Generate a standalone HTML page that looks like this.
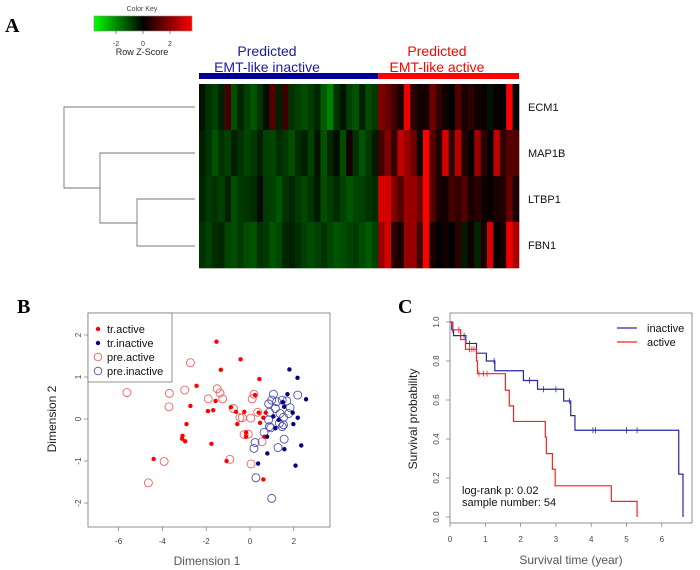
<!DOCTYPE html>
<html><head><meta charset="utf-8"><style>
html,body{margin:0;padding:0;background:#fff;}
svg{display:block;font-family:"Liberation Sans",sans-serif;}
</style></head><body>
<svg id="fig" width="700" height="570" viewBox="0 0 700 570"></svg>
<script>
// ---------- Panel A data ----------
const genes = ["ECM1","MAP1B","LTBP1","FBN1"];
const ecm1 = [-0.3,-0.8,-1,-0.5,0.8,-1.2,-0.6,-1,-1.3,-0.8,-0.2,1,-0.5,0.7,-0.8,-1,-1.2,-0.9,-0.6,-1.4,-2,-0.8,-0.3,-1,-1.3,-0.5,-1.2,-0.9, 1.5,1.2,0.8,0.3,2.8,0.5,0.2,0.3,1.3,0.6,0.2,0,1,0.3,0.5,0.2,0.1,-0.3,0.1,0,3,0];
const map1b = [-0.5,-0.8,-1.3,-0.8,-1,-0.5,-0.8,-1.1,-0.9,-0.5,-1,-1.1,-0.7,-0.9,-1.2,-0.7,-0.5,-1,-0.3,-1.3,-0.6,-0.2,-1.2,0.2,-0.8,-1.3,-0.9,-0.4, 0.8,1.5,0.6,2.3,1.8,1.3,0.2,3,1,0.4,2.5,0.6,2.2,0.4,0,1.8,0.5,0,2.3,0.6,1,1];
const ltbp1 = [-0.6,-0.9,-0.8,-1,-0.5,-1.2,-0.9,-0.8,-0.7,-0.2,-0.9,-1,-1.3,-0.8,-0.6,-0.9,-1.1,-0.8,-0.4,-1.2,-0.9,-0.7,-1,-1.3,-1.1,-1,-0.8,-0.7, 2.5,2.5,1.5,1,1.8,1.8,1.3,3,1,0.3,0.2,0.8,0.6,1,0.3,0.5,0.2,0.1,0.3,0.4,1.2,0.3];
const fbn1 = [-0.8,-1,-0.7,-0.6,-1.1,-1.2,-0.9,-1.2,-1.3,-0.8,-0.9,-1.3,-1.1,-0.6,-0.5,-0.7,-1,-1.2,-1,-0.8,-1.1,-1.3,-1.2,-1,-0.9,-1.2,-1.4,-1, 1.8,2.5,0.5,0.3,1.8,1.8,0.8,3,0.3,0,0.2,0,0.5,-0.4,0.2,-0.6,0.3,2.5,0,0.3,2.8,2];
const nInactive = 28;

// ---------- Panel B data ----------
const trActiveX = [-1.53,-0.43,-1.33,0.43,-2.44,0.23,-2.72,-1.57,-1.92,-1.68,-0.87,-0.64,-0.26,-0.58,-2.9,-3.08,-3.1,-2.96,-1.76,-0.18,-0.18,-1.07,-4.4,0.4,0.46,0.61,0.72,0.66,0.61];
const trActiveY = [1.84,1.42,1.17,0.95,0.79,0.57,0.31,0.43,0.19,0.21,0.28,0.17,0.17,-0.12,-0.12,-0.4,-0.47,-0.53,-0.59,-0.32,-0.42,-1.0,-0.95,0.15,-0.09,0.03,0.15,-0.42,-1.44];
const preActiveX = [-2.72,-5.62,-3.68,-2.98,-3.7,-3.92,-4.64,-1.5,-1.37,-1.25,-1.91,-0.76,-0.46,-0.35,0.03,0.35,0.18,0.1,-0.27,-0.08,0.55,-0.92,0.05];
const preActiveY = [1.34,0.63,0.61,0.69,0.29,-1.01,-1.52,0.72,0.62,0.48,0.48,0.25,0.03,0.03,0.02,0.16,0.59,0.48,-0.37,-0.36,-0.54,-0.96,-1.07];
const trInactiveX = [1.8,2.17,2.56,1.71,1.5,1.56,1.95,2.18,1.98,1.07,1.31,1.16,0.78,1.57,0.79,2.34,0.37,2.08];
const trInactiveY = [1.18,0.98,0.47,0.59,0.4,0.29,0.15,0.03,-0.12,0.06,-0.02,-0.22,-0.42,-0.72,-0.82,-0.63,-1.06,-1.11];
const preInactiveX = [1.07,0.99,0.85,1.22,1.47,1.68,2.18,1.83,1.77,0.89,1.16,1.37,1.53,1.34,1.53,1.47,0.89,0.95,0.64,0.85,1.56,1.28,0.23,0.18,0.27,0.99];
const preInactiveY = [0.59,0.45,0.36,0.41,0.45,0.43,0.57,0.27,0.13,0.16,0.25,0.13,0.04,-0.1,-0.14,-0.18,-0.18,-0.21,-0.32,-0.02,-0.48,-0.68,-0.56,-0.7,-1.4,-1.89];
const bXTicks = [-6,-4,-2,0,2];
const bYTicks = [-2,-1,0,1,2];

// ---------- Panel C data ----------
const inactT = [0,0.05,0.1,0.45,0.75,1.03,1.27,2.08,2.48,3.22,3.42,3.54,6.48,6.6];
const inactS = [1.0,0.96,0.93,0.89,0.84,0.80,0.75,0.70,0.655,0.595,0.52,0.445,0.22,0];
const actT = [0,0.08,0.3,0.44,0.75,0.78,1.57,1.68,1.8,2.7,2.73,2.9,2.98,4.57,5.3];
const actS = [1.0,0.96,0.91,0.86,0.80,0.735,0.65,0.57,0.49,0.41,0.325,0.245,0.16,0.08,0];
const inactCensor = [0.08,0.4,0.55,1.25,2.25,2.65,3.0,3.38,4.05,4.12,5.0,5.3];
const actCensor = [0.25,0.55,0.62,0.68,0.82,0.95,1.05];
const cXTicks = [0,1,2,3,4,5,6];
const cYTicks = [0,0.2,0.4,0.6,0.8,1.0];

const NS="http://www.w3.org/2000/svg";
const svg=document.getElementById('fig');
function mk(tag,attrs,parent,text){const e=document.createElementNS(NS,tag);for(const k in attrs)e.setAttribute(k,attrs[k]);if(text!==undefined)e.textContent=text;(parent||svg).appendChild(e);return e;}
function grp(name){const g=mk('g',{});return g;}

// ===== Panel A =====
const gA=grp('panel-a');
let t=mk('text',{x:5,y:32,'font-family':'Liberation Serif,serif','font-weight':'bold','font-size':20},gA,'A');

const defs=mk('defs',{});
const lg=mk('linearGradient',{id:'ck',x1:0,x2:1,y1:0,y2:0},defs);
mk('stop',{offset:'0','stop-color':'#00ff00'},lg);mk('stop',{offset:'0.5','stop-color':'#000'},lg);mk('stop',{offset:'1','stop-color':'#ff0000'},lg);
const gK=grp('color-key');gA.appendChild(gK);
mk('text',{x:142,y:11,'font-size':7,'text-anchor':'middle',fill:'#444'},gK,'Color Key');
let r=mk('rect',{x:94,y:16,width:98,height:15,fill:'url(#ck)',stroke:'#888','stroke-width':0.6},gK);

[[-2,116],[0,143],[2,170]].forEach(([v,x])=>{mk('line',{x1:x,x2:x,y1:31,y2:34,stroke:'#444','stroke-width':0.6},gK);mk('text',{x:x,y:46,'font-size':7,'text-anchor':'middle',fill:'#333'},gK,String(v));});
mk('text',{x:142,y:55,'font-size':9,'text-anchor':'middle',fill:'#222'},gK,'Row Z-Score');
const gH=grp('group-header');gA.appendChild(gH);
const hx0=199,hx1=519,nCols=ecm1.length,cw=(hx1-hx0)/nCols,splitX=hx0+nInactive*cw;
mk('rect',{x:hx0,y:73,width:splitX-hx0,height:6,fill:'#000099'},gH);
mk('rect',{x:splitX,y:73,width:hx1-splitX,height:6,fill:'#ff0000'},gH);
mk('text',{x:267,y:56,'font-size':14,'text-anchor':'middle',fill:'#1a1aa6'},gH,'Predicted');
mk('text',{x:267,y:72,'font-size':14,'text-anchor':'middle',fill:'#1a1aa6'},gH,'EMT-like inactive');
mk('text',{x:437,y:56,'font-size':14,'text-anchor':'middle',fill:'#ff0000'},gH,'Predicted');
mk('text',{x:437,y:72,'font-size':14,'text-anchor':'middle',fill:'#ff0000'},gH,'EMT-like active');
const gM=grp('heatmap');gA.appendChild(gM);
const rows=[ecm1,map1b,ltbp1,fbn1];const hy0=84,rh=(268-84)/4;
function col(v){if(v<0){const g=Math.round(Math.min(1,-v/2.5)*160);return `rgb(0,${g},0)`;}const rr=Math.round(Math.min(1,v/3)*255);return `rgb(${rr},0,0)`;}
rows.forEach((arr,ri)=>{arr.forEach((v,ci)=>{const c=mk('rect',{x:hx0+ci*cw,y:hy0+ri*rh,width:cw+0.3,height:rh+0.3,fill:col(v)},gM);
});
const lb=mk('text',{x:528,y:hy0+ri*rh+rh/2+4,'font-size':11,fill:'#111'},gA,genes[ri]);
});
const gD=grp('dendrogram');gA.appendChild(gD);
const dl=(pts)=>mk('polyline',{points:pts,fill:'none',stroke:'#777','stroke-width':0.9},gD);
dl('195,107 64,107 64,188 100,188');
dl('195,153 100,153 100,223 137,223');
dl('195,199 137,199 137,246 195,246');

// ===== Panel B =====
const gB=grp('panel-b');
t=mk('text',{x:17,y:313,'font-family':'Liberation Serif,serif','font-weight':'bold','font-size':20},gB,'B');

const bx=v=>250+v*21.9, by=v=>419-v*42;
mk('rect',{x:88,y:313,width:242,height:214,fill:'none',stroke:'#777','stroke-width':0.8},gB);
bXTicks.forEach(v=>{mk('line',{x1:bx(v),x2:bx(v),y1:527,y2:531,stroke:'#777','stroke-width':0.7},gB);mk('text',{x:bx(v),y:544,'font-size':8,'text-anchor':'middle',fill:'#444'},gB,String(v));});
bYTicks.forEach(v=>{mk('line',{x1:84,x2:88,y1:by(v),y2:by(v),stroke:'#777','stroke-width':0.7},gB);mk('text',{x:81,y:by(v),'font-size':8,'text-anchor':'middle',fill:'#444',transform:`rotate(-90 81 ${by(v)})`},gB,String(v));});
mk('text',{x:207,y:565,'font-size':12,'text-anchor':'middle',fill:'#555'},gB,'Dimension 1');
mk('text',{x:56,y:419,'font-size':12,'text-anchor':'middle',fill:'#222',transform:'rotate(-90 56 419)'},gB,'Dimension 2');
function pts(xs,ys,filled,color,name){const g=grp(name);gB.appendChild(g);xs.forEach((x,i)=>{const c=filled?mk('circle',{cx:bx(x),cy:by(ys[i]),r:2.2,fill:color},g):mk('circle',{cx:bx(x),cy:by(ys[i]),r:4,fill:'none',stroke:color,'stroke-width':0.9},g);
});}
pts(preActiveX,preActiveY,false,'#f06060','series-pre-active');
pts(preInactiveX,preInactiveY,false,'#5050b0','series-pre-inactive');
pts(trActiveX,trActiveY,true,'#ff0000','series-tr-active');
pts(trInactiveX,trInactiveY,true,'#000080','series-tr-inactive');
const gBL=grp('legend-b');gB.appendChild(gBL);
mk('rect',{x:88,y:313,width:84,height:69,fill:'#fff',stroke:'#777','stroke-width':0.8},gBL);
[['tr.active',true,'#ff0000'],['tr.inactive',true,'#000080'],['pre.active',false,'#f06060'],['pre.inactive',false,'#5050b0']].forEach(([l,f,c],i)=>{const y=329+i*14;
f?mk('circle',{cx:98,cy:y,r:2.2,fill:c},gBL):mk('circle',{cx:98,cy:y,r:3.8,fill:'none',stroke:c,'stroke-width':0.9},gBL);
const e=mk('text',{x:107,y:y+4,'font-size':11,fill:'#111'},gBL,l);});

// ===== Panel C =====
const gC=grp('panel-c');
t=mk('text',{x:398,y:313,'font-family':'Liberation Serif,serif','font-weight':'bold','font-size':20},gC,'C');

const cx=v=>450+v*35.3, cy=v=>517-v*195;
mk('rect',{x:450,y:313,width:242,height:210,fill:'none',stroke:'#777','stroke-width':0.8},gC);
cXTicks.forEach(v=>{mk('line',{x1:cx(v),x2:cx(v),y1:523,y2:527,stroke:'#777','stroke-width':0.7},gC);mk('text',{x:cx(v),y:542,'font-size':8,'text-anchor':'middle',fill:'#444'},gC,String(v));});
cYTicks.forEach(v=>{mk('line',{x1:446,x2:450,y1:cy(v),y2:cy(v),stroke:'#777','stroke-width':0.7},gC);mk('text',{x:439,y:cy(v),'font-size':8,'text-anchor':'middle',fill:'#444',transform:`rotate(-90 439 ${cy(v)})`},gC,v.toFixed(1));});
mk('text',{x:571,y:564,'font-size':12,'text-anchor':'middle',fill:'#555'},gC,'Survival time (year)');
mk('text',{x:417,y:419,'font-size':12,'text-anchor':'middle',fill:'#222',transform:'rotate(-90 417 419)'},gC,'Survival probability');
function step(T,S,color,name,cens){let d=`M${cx(T[0])},${cy(S[0])}`;for(let i=1;i<T.length;i++){d+=` H${cx(T[i])} V${cy(S[i])}`;}
const p=mk('path',{d:d,fill:'none',stroke:color,'stroke-width':1.2},gC);
cens.forEach(c=>{let s=S[0];for(let i=0;i<T.length;i++){if(T[i]<=c)s=S[i];}const m=mk('line',{x1:cx(c),x2:cx(c),y1:cy(s)-3,y2:cy(s)+3,stroke:color,'stroke-width':0.8},gC);});}
step(inactT,inactS,'#2828a0','curve-inactive',inactCensor);
step(actT,actS,'#ff2020','curve-active',actCensor);
const gCL=grp('legend-c');gC.appendChild(gCL);
[['inactive','#2828a0'],['active','#ff2020']].forEach(([l,c],i)=>{const y=328+i*14;mk('line',{x1:617,x2:637,y1:y,y2:y,stroke:c,'stroke-width':1.2},gCL);
const e=mk('text',{x:647,y:y+4,'font-size':11,fill:'#111'},gCL,l);});
mk('text',{x:462,y:494,'font-size':11,fill:'#111'},gC,'log-rank p: 0.02');
mk('text',{x:462,y:506,'font-size':11,fill:'#111'},gC,'sample number: 54');
</script>
</body></html>
